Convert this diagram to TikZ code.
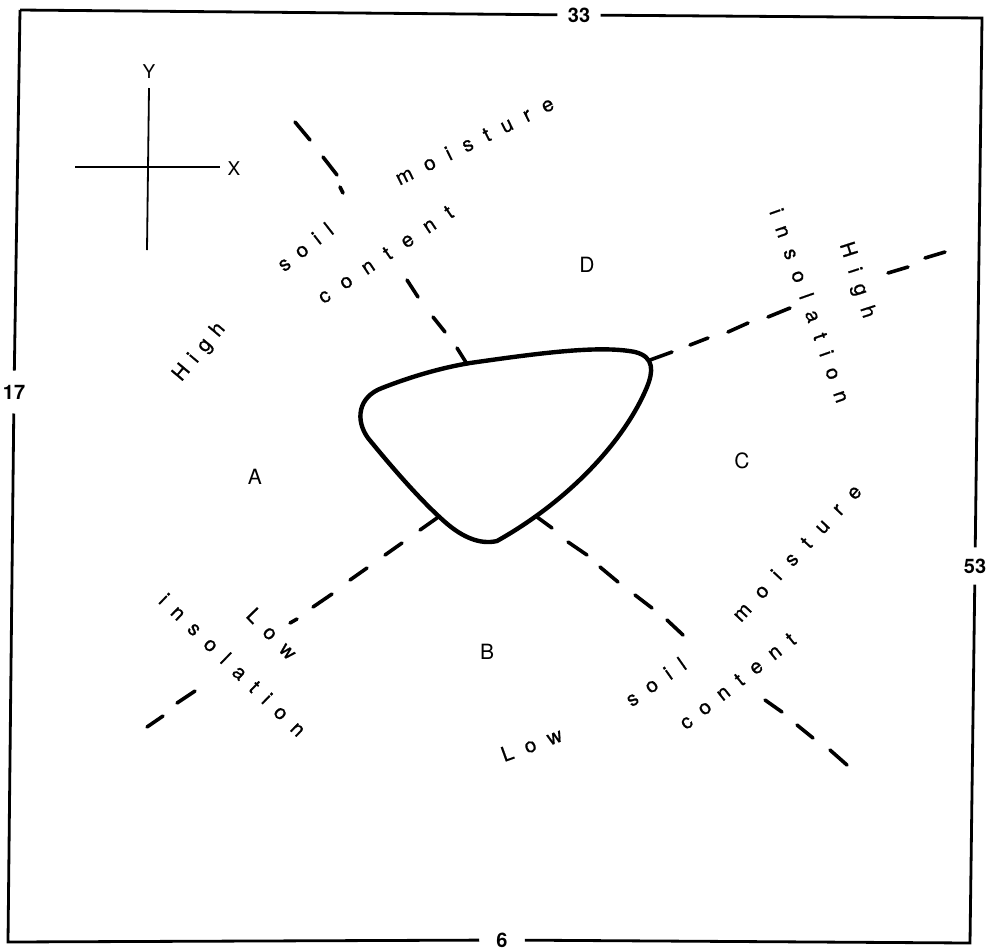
\documentclass[tikz,border=0pt]{standalone}
\usepackage{fontspec}
\setmainfont{TeX Gyre Heros}
\newfontfamily\lblfam[FakeBold=0.8]{TeX Gyre Heros}
\usetikzlibrary{calc,decorations.text}
\newcommand\lblfont{\lblfam\fontsize{10.3}{12}\selectfont}
\newcommand\spword[5]{\path[spaced={#1}] ($(#2)!-#4!(#3)$) -- ($(#3)!-#5!(#2)$);}
\begin{document}
\begin{tikzpicture}[x=0.5pt,y=0.5pt,
  frame/.style={line width=1.4pt, line join=miter},
  blob/.style={line width=2.2pt, line join=round},
  dsh/.style={line width=1.8pt, line cap=round},
  axis/.style={line width=1.1pt},
  region/.style={font=\fontsize{10.5}{12}\selectfont, inner sep=0pt},
  num/.style={font=\bfseries\fontsize{10}{12}\selectfont, inner sep=0pt},
  spaced/.style={decorate, decoration={text along path, text={|\lblfont|#1}, text align={fit to path}, raise=-2.7pt}}
]
\useasboundingbox (0,0) rectangle (991,-949);
% frame
\coordinate (tl) at (20,-10);
\coordinate (tr) at (982,-18);
\coordinate (br) at (970,-943);
\coordinate (bl) at (8,-942);
\node[num, inner xsep=5pt] (n33) at (579,-15) {33};
\node[num, inner ysep=5.4pt] (n53) at (975,-566) {53};
\node[num, inner xsep=8.4pt] (n6) at (502,-940) {6};
\node[num, inner ysep=7pt] (n17) at (14,-392) {17};
\draw[frame] (tl) -- (n33) -- (tr) -- (n53) -- (br) -- (n6) -- (bl) -- (n17) -- (tl);
% axes
\coordinate (yt) at (149,-88);
\coordinate (yb) at (147,-250);
\coordinate (xl) at (75,-167);
\coordinate (xr) at (220,-167);
\node[font=\fontsize{9.5}{11}\selectfont, inner sep=0pt] (Ylab) at (149,-72) {Y};
\node[font=\fontsize{9.5}{11}\selectfont, inner sep=0pt] (Xlab) at (234,-169) {X};
\draw[axis] (xl) -- (xr);
\draw[line width=0.9pt] (yt) -- (yb);
% region labels
\node[region] (A) at (255,-477) {A};
\node[region] (B) at (487,-652) {B};
\node[region] (C) at (742,-461) {C};
\node[region] (D) at (587,-265) {D};
% blob
\draw[blob] (470,-363) .. controls (540,-353) and (600,-345) .. (635,-352)
  .. controls (655,-357) and (653,-372) .. (647,-387)
  .. controls (625,-440) and (570,-500) .. (497,-541)
  .. controls (480,-545) and (462,-537) .. (445,-522)
  .. controls (420,-500) and (390,-465) .. (368,-438)
  .. controls (355,-420) and (358,-397) .. (382,-388)
  .. controls (410,-377) and (440,-368) .. cycle;
% dashed line NW
\draw[dsh] (295,-122) -- (310,-140);
\draw[dsh] (323,-157) -- (337,-175);
\draw[dsh] (340,-187) -- (343,-193);
\draw[dsh] (407,-280) -- (418,-297);
\draw[dsh] (433,-317) -- (445,-332);
\draw[dsh] (457,-348) -- (467,-364);
% dashed line NE
\draw[dsh] (650,-360) -- (672,-352);
\draw[dsh] (690,-345) -- (708,-338);
\draw[dsh] (728,-332) -- (748,-323);
\draw[dsh] (768,-317) -- (790,-308);
\draw[dsh] (888,-273) -- (908,-267);
\draw[dsh] (925,-258) -- (945,-252);
% dashed line SW
\draw[dsh] (420,-530) -- (437,-518);
\draw[dsh] (385,-555) -- (402,-543);
\draw[dsh] (350,-580) -- (367,-568);
\draw[dsh] (313,-607) -- (332,-594);
\draw[dsh] (290,-623) -- (297,-619);
\draw[dsh] (177,-703) -- (195,-691);
\draw[dsh] (147,-727) -- (163,-716);
% dashed line SE
\draw[dsh] (537,-517) -- (552,-528);
\draw[dsh] (568,-542) -- (587,-555);
\draw[dsh] (600,-567) -- (618,-582);
\draw[dsh] (635,-595) -- (652,-608);
\draw[dsh] (667,-620) -- (683,-635);
\draw[dsh] (765,-700) -- (782,-712);
\draw[dsh] (797,-725) -- (813,-738);
\draw[dsh] (830,-750) -- (847,-765);
% spaced words
\spword{High}{182,-373}{218,-330}{3.7pt}{2.9pt}
\spword{soil}{285,-265}{330,-230}{2.6pt}{1.15pt}
\spword{moisture}{405,-177}{548,-106}{4.3pt}{2.9pt}
\spword{content}{325,-297}{450,-213}{2.6pt}{1.4pt}
\spword{High}{847,-250}{867,-312}{3.7pt}{2.9pt}
\spword{insolation}{775,-212}{840,-397}{1.15pt}{2.9pt}
\spword{Low}{253,-617}{287,-652}{2.9pt}{3.7pt}
\spword{insolation}{163,-600}{297,-730}{1.15pt}{2.9pt}
\spword{Low}{508,-755}{555,-738}{2.9pt}{3.7pt}
\spword{soil}{633,-700}{683,-665}{2.6pt}{1.15pt}
\spword{moisture}{743,-613}{855,-493}{4.3pt}{2.9pt}
\spword{content}{687,-723}{792,-640}{2.6pt}{1.4pt}
\end{tikzpicture}
\end{document}
